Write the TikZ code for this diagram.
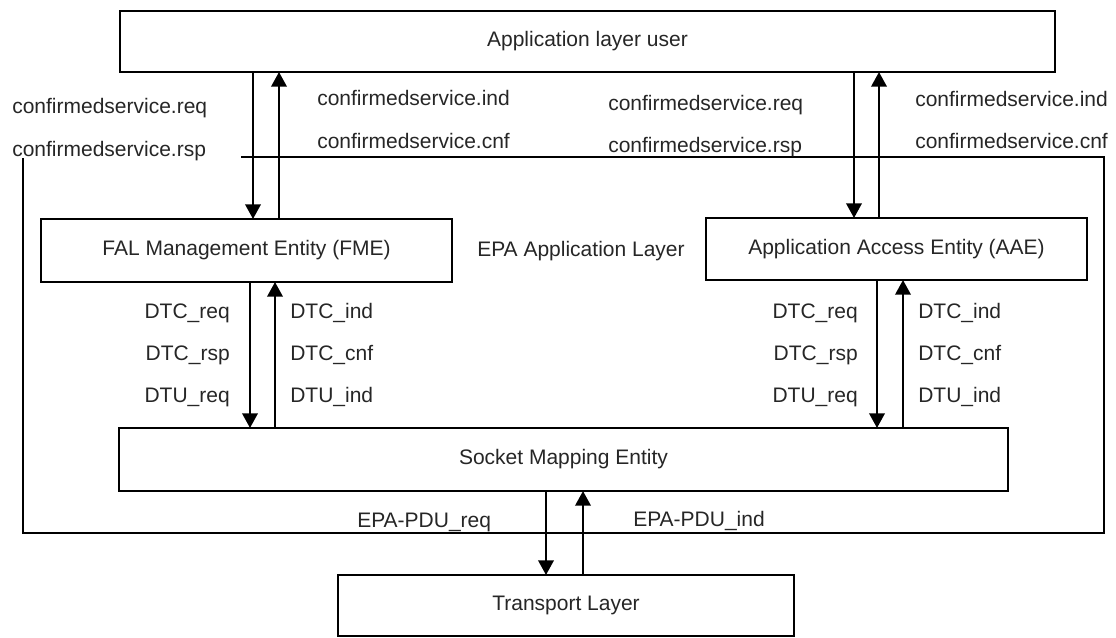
\documentclass[tikz,border=0pt]{standalone}
\usepackage{fontspec}
\setmainfont{Liberation Sans}
\usetikzlibrary{arrows.meta}
\begin{document}
\begin{tikzpicture}[x=0.75pt,y=-0.75pt,
  box/.style={draw=black, line width=1.5pt, inner sep=0pt, outer sep=0pt, fill=white,
    font=\fontsize{15.75pt}{18pt}\selectfont, text=black!85},
  lbl/.style={inner sep=0pt, font=\fontsize{15.75pt}{18pt}\selectfont, text=black!85},
  arr/.style={line width=1.9pt, -{Triangle[length=11pt,width=11.5pt]}},
  frame/.style={line width=1.25pt}]
\useasboundingbox (0,0) rectangle (1116,637);
% EPA application layer frame
\draw[frame] (241,157) -- (1104,157) -- (1104,533) -- (23,533) -- (23,158);
% boxes
\node[box, minimum width=701.25pt, minimum height=45.75pt] (app) at (587.5,41.5) {Application layer user};
\node[box, minimum width=308.25pt, minimum height=47.25pt] (fme) at (246.5,250.5) {FAL Management Entity (FME)};
\node[box, minimum width=285.75pt, minimum height=46.5pt] (aae) at (896.5,249) {Application Access Entity (AAE)};
\node[box, minimum width=666.75pt, minimum height=47.25pt] (sme) at (563.5,459.5) {Socket Mapping Entity};
\node[box, minimum width=342pt, minimum height=45.75pt] (tl) at (566,605.5) {Transport Layer};
% arrows
\draw[arr] (253,0 |- app.south) -- (253,0 |- fme.north);
\draw[arr] (279,0 |- fme.north) -- (279,0 |- app.south);
\draw[arr] (854,0 |- app.south) -- (854,0 |- aae.north);
\draw[arr] (879,0 |- aae.north) -- (879,0 |- app.south);
\draw[arr] (250,0 |- fme.south) -- (250,0 |- sme.north);
\draw[arr] (275,0 |- sme.north) -- (275,0 |- fme.south);
\draw[arr] (877,0 |- aae.south) -- (877,0 |- sme.north);
\draw[arr] (903,0 |- sme.north) -- (903,0 |- aae.south);
\draw[arr] (546,0 |- sme.south) -- (546,0 |- tl.north);
\draw[arr] (583,0 |- tl.north) -- (583,0 |- sme.south);
% labels
\node[lbl, anchor=base west] (l1) at (12,113) {confirmedservice.req};
\node[lbl, anchor=base west] (l2) at (12,156) {confirmedservice.rsp};
\node[lbl, anchor=base west] (l3) at (317,105) {confirmedservice.ind};
\node[lbl, anchor=base west] (l4) at (317,148) {confirmedservice.cnf};
\node[lbl, anchor=base west] (l5) at (608,110) {confirmedservice.req};
\node[lbl, anchor=base west] (l6) at (608,152) {confirmedservice.rsp};
\node[lbl, anchor=base west] (l7) at (915,106) {confirmedservice.ind};
\node[lbl, anchor=base west] (l8) at (915,148) {confirmedservice.cnf};
\node[lbl, anchor=base west] (epa) at (477,256) {EPA Application Layer};
\node[lbl, anchor=base east] (d1) at (230,318) {DTC\_req};
\node[lbl, anchor=base east] (d2) at (230,360) {DTC\_rsp};
\node[lbl, anchor=base east] (d3) at (230,402) {DTU\_req};
\node[lbl, anchor=base west] (d4) at (290,318) {DTC\_ind};
\node[lbl, anchor=base west] (d5) at (290,360) {DTC\_cnf};
\node[lbl, anchor=base west] (d6) at (290,402) {DTU\_ind};
\node[lbl, anchor=base east] (e1) at (858,318) {DTC\_req};
\node[lbl, anchor=base east] (e2) at (858,360) {DTC\_rsp};
\node[lbl, anchor=base east] (e3) at (858,402) {DTU\_req};
\node[lbl, anchor=base west] (e4) at (918,318) {DTC\_ind};
\node[lbl, anchor=base west] (e5) at (918,360) {DTC\_cnf};
\node[lbl, anchor=base west] (e6) at (918,402) {DTU\_ind};
\node[lbl, anchor=base west] (p1) at (357,527) {EPA-PDU\_req};
\node[lbl, anchor=base west] (p2) at (633,526) {EPA-PDU\_ind};
\end{tikzpicture}
\end{document}
